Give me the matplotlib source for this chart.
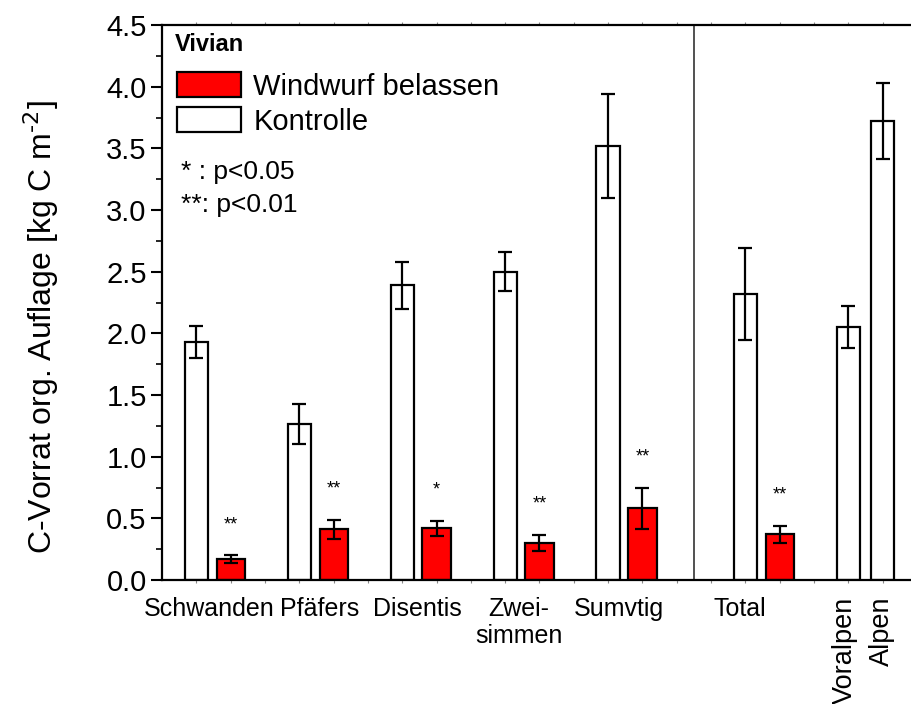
import numpy as np
import matplotlib
matplotlib.use("Agg")
import matplotlib.pyplot as plt
from matplotlib.patches import Patch
from matplotlib.ticker import MultipleLocator, FixedLocator

plt.rcParams['font.family'] = ['Liberation Sans', 'DejaVu Sans']

# Daten
kontrolle_pos = [1, 4, 7, 10, 13, 17, 20, 21]
kontrolle = [1.93, 1.265, 2.39, 2.50, 3.52, 2.32, 2.05, 3.72]
kontrolle_err = [0.13, 0.16, 0.19, 0.16, 0.42, 0.37, 0.17, 0.31]

windwurf_pos = [2, 5, 8, 11, 14, 18]
windwurf = [0.17, 0.41, 0.42, 0.30, 0.58, 0.37]
windwurf_err = [0.03, 0.08, 0.06, 0.065, 0.17, 0.07]
signif = ['**', '**', '*', '**', '**', '**']

label_pos = [1.37, 4.59, 7.43, 10.4, 13.3, 16.84, 19.9, 20.99]
labels = ['Schwanden', 'Pfäfers', 'Disentis', 'Zwei-\nsimmen', 'Sumvtig', 'Total',
          'Voralpen', 'Alpen']

fig = plt.figure(figsize=(9.12, 7.04), dpi=100)
ax = fig.add_axes([162 / 912, 124 / 704, 755 / 912, 555 / 704])

err_kw = dict(elinewidth=1.6, capthick=1.6, capsize=5, ecolor='black')
ax.bar(kontrolle_pos, kontrolle, width=0.68, color='white', edgecolor='black',
       linewidth=1.6, yerr=kontrolle_err, error_kw=err_kw, zorder=2)
ax.bar(windwurf_pos, windwurf, width=0.82, color='#ff0000', edgecolor='black',
       linewidth=1.6, yerr=windwurf_err, error_kw=err_kw, zorder=2)

# Signifikanz-Sterne
for x, v, e, s in zip(windwurf_pos, windwurf, windwurf_err, signif):
    ax.text(x, v + e + 0.18, s, ha='center', va='bottom', fontsize=13)

ax.axvline(15.5, color='#222222', linewidth=1.1)

ax.set_xlim(0, 22)
ax.set_ylim(0, 4.5)

ax.set_xticks(label_pos)
ax.set_xticklabels(labels, fontsize=18)
ax.tick_params(axis='x', which='major', length=0, pad=12)
for t in ax.get_xticklabels()[6:]:
    t.set_rotation(90)
    t.set_va('top')
    t.set_fontsize(19.5)
ax.xaxis.set_minor_locator(FixedLocator(np.arange(1, 22)))
ax.tick_params(axis='x', which='minor', length=2.5, width=0.8, color='#888888',
               top=True, bottom=True, direction='out')

ax.yaxis.set_major_locator(MultipleLocator(0.5))
ax.yaxis.set_minor_locator(MultipleLocator(0.25))
ax.yaxis.set_major_formatter(matplotlib.ticker.FormatStrFormatter('%.1f'))
ax.tick_params(axis='y', which='major', length=8, width=1.5, labelsize=21, pad=3)
ax.tick_params(axis='y', which='minor', length=4, width=1.2)

ax.set_ylabel('C-Vorrat org. Auflage [kg C m$^{\\text{-2}}$]', fontsize=23)
ax.yaxis.set_label_coords(-0.134, 0.456)

for sp in ['left', 'top', 'bottom']:
    ax.spines[sp].set_linewidth(1.6)
ax.spines['right'].set_visible(False)

# Legende
ax.text(0.017, 0.964, 'Vivian', transform=ax.transAxes, fontsize=17,
        fontweight='bold', ha='left', va='center')
handles = [Patch(facecolor='#ff0000', edgecolor='black', linewidth=1.6),
           Patch(facecolor='white', edgecolor='black', linewidth=1.6)]
ax.legend(handles, ['Windwurf belassen', 'Kontrolle'], loc='upper left',
          bbox_to_anchor=(15 / 755, (580 - 72) / 555), frameon=False, fontsize=21,
          handlelength=2.2, handleheight=0.95, handletextpad=0.42,
          labelspacing=0.22, borderpad=0, borderaxespad=0)

ax.text(0.025, 0.736, '* : p<0.05', transform=ax.transAxes, fontsize=19,
        ha='left', va='center')
ax.text(0.025, 0.676, '**: p<0.01', transform=ax.transAxes, fontsize=19,
        ha='left', va='center')

fig.savefig('out.png', dpi=100)
